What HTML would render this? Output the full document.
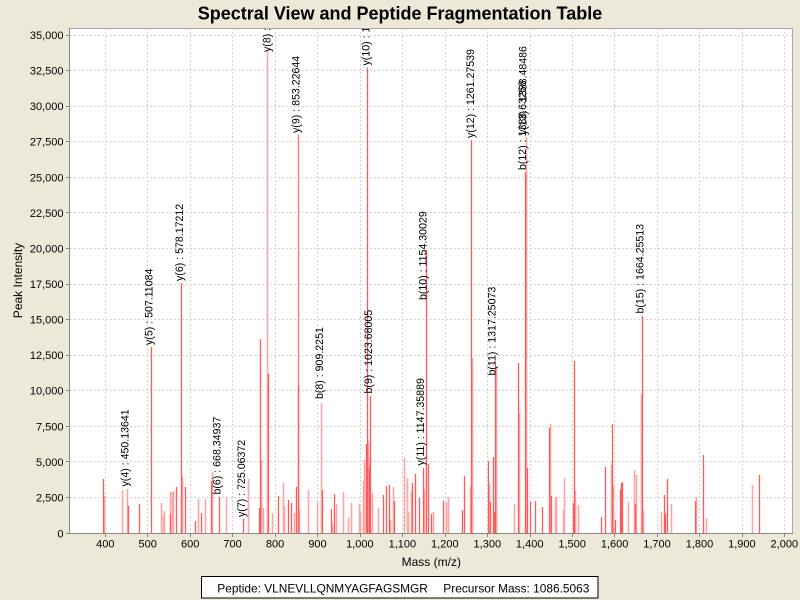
<!DOCTYPE html>
<html><head><meta charset="utf-8"><style>
html,body{margin:0;padding:0;background:#ECE9D8;}
svg{display:block;font-family:"Liberation Sans",Arial,sans-serif;}
.g{stroke:#d4d4d4;stroke-width:1;stroke-dasharray:2,2;}
.l{stroke:#ffa3a3;stroke-width:1.6;}
.b{stroke:#ff5a5a;stroke-width:1.3;}
.lb{font-size:10.6px;fill:#000;}
.tk{font-size:11px;fill:#000;}
</style></head><body>
<svg width="800" height="600" viewBox="0 0 800 600" xmlns="http://www.w3.org/2000/svg">
<rect x="0" y="0" width="800" height="600" fill="#ECE9D8"/>
<text x="400" y="19.5" text-anchor="middle" font-size="18" font-weight="bold" fill="#000">Spectral View and Peptide Fragmentation Table</text>
<defs><clipPath id="pc"><rect x="70" y="28" width="723" height="505"/></clipPath></defs>
<rect x="70" y="28" width="723" height="505" fill="#fff"/>
<g class="g">
<line x1="105.5" y1="28" x2="105.5" y2="533"/><line x1="147.5" y1="28" x2="147.5" y2="533"/><line x1="190.5" y1="28" x2="190.5" y2="533"/><line x1="232.5" y1="28" x2="232.5" y2="533"/><line x1="275.5" y1="28" x2="275.5" y2="533"/><line x1="317.5" y1="28" x2="317.5" y2="533"/><line x1="360.5" y1="28" x2="360.5" y2="533"/><line x1="402.5" y1="28" x2="402.5" y2="533"/><line x1="445.5" y1="28" x2="445.5" y2="533"/><line x1="487.5" y1="28" x2="487.5" y2="533"/><line x1="530.5" y1="28" x2="530.5" y2="533"/><line x1="572.5" y1="28" x2="572.5" y2="533"/><line x1="614.5" y1="28" x2="614.5" y2="533"/><line x1="657.5" y1="28" x2="657.5" y2="533"/><line x1="699.5" y1="28" x2="699.5" y2="533"/><line x1="742.5" y1="28" x2="742.5" y2="533"/><line x1="784.5" y1="28" x2="784.5" y2="533"/>
<line x1="70" y1="497.5" x2="793" y2="497.5"/><line x1="70" y1="461.5" x2="793" y2="461.5"/><line x1="70" y1="426.5" x2="793" y2="426.5"/><line x1="70" y1="390.5" x2="793" y2="390.5"/><line x1="70" y1="355.5" x2="793" y2="355.5"/><line x1="70" y1="319.5" x2="793" y2="319.5"/><line x1="70" y1="284.5" x2="793" y2="284.5"/><line x1="70" y1="248.5" x2="793" y2="248.5"/><line x1="70" y1="212.5" x2="793" y2="212.5"/><line x1="70" y1="177.5" x2="793" y2="177.5"/><line x1="70" y1="141.5" x2="793" y2="141.5"/><line x1="70" y1="106.5" x2="793" y2="106.5"/><line x1="70" y1="70.5" x2="793" y2="70.5"/><line x1="70" y1="35.5" x2="793" y2="35.5"/>
</g>
<g clip-path="url(#pc)">
<g class="l">
<line x1="104.5" y1="496" x2="104.5" y2="533"/>
<line x1="122.5" y1="490" x2="122.5" y2="533"/>
<line x1="127.5" y1="489" x2="127.5" y2="533"/>
<line x1="161.5" y1="503" x2="161.5" y2="533"/>
<line x1="163.5" y1="515" x2="163.5" y2="533"/>
<line x1="164.5" y1="511" x2="164.5" y2="533"/>
<line x1="170.5" y1="492" x2="170.5" y2="533"/>
<line x1="172.5" y1="492" x2="172.5" y2="533"/>
<line x1="173.5" y1="491" x2="173.5" y2="533"/>
<line x1="182.5" y1="477" x2="182.5" y2="533"/>
<line x1="198.5" y1="499" x2="198.5" y2="533"/>
<line x1="205.5" y1="499" x2="205.5" y2="533"/>
<line x1="212.5" y1="472" x2="212.5" y2="533"/>
<line x1="226.5" y1="498" x2="226.5" y2="533"/>
<line x1="248.5" y1="479" x2="248.5" y2="533"/>
<line x1="261.5" y1="460" x2="261.5" y2="533"/>
<line x1="263.5" y1="508" x2="263.5" y2="533"/>
<line x1="267.5" y1="52" x2="267.5" y2="533"/>
<line x1="272.5" y1="513" x2="272.5" y2="533"/>
<line x1="283.5" y1="483" x2="283.5" y2="533"/>
<line x1="284.5" y1="506" x2="284.5" y2="533"/>
<line x1="294.5" y1="513" x2="294.5" y2="533"/>
<line x1="299.5" y1="509" x2="299.5" y2="533"/>
<line x1="308.5" y1="490" x2="308.5" y2="533"/>
<line x1="317.5" y1="502" x2="317.5" y2="533"/>
<line x1="321.5" y1="403" x2="321.5" y2="533"/>
<line x1="332.5" y1="523" x2="332.5" y2="533"/>
<line x1="336.5" y1="504" x2="336.5" y2="533"/>
<line x1="343.5" y1="492" x2="343.5" y2="533"/>
<line x1="348.5" y1="518" x2="348.5" y2="533"/>
<line x1="351.5" y1="503" x2="351.5" y2="533"/>
<line x1="359.5" y1="504" x2="359.5" y2="533"/>
<line x1="360.5" y1="511" x2="360.5" y2="533"/>
<line x1="363.5" y1="481" x2="363.5" y2="533"/>
<line x1="364.5" y1="460" x2="364.5" y2="533"/>
<line x1="368.5" y1="441" x2="368.5" y2="533"/>
<line x1="369.5" y1="457" x2="369.5" y2="533"/>
<line x1="372.5" y1="493" x2="372.5" y2="533"/>
<line x1="378.5" y1="508" x2="378.5" y2="533"/>
<line x1="390.5" y1="520" x2="390.5" y2="533"/>
<line x1="393.5" y1="487" x2="393.5" y2="533"/>
<line x1="404.5" y1="458" x2="404.5" y2="533"/>
<line x1="407.5" y1="478" x2="407.5" y2="533"/>
<line x1="408.5" y1="512" x2="408.5" y2="533"/>
<line x1="411.5" y1="491" x2="411.5" y2="533"/>
<line x1="424.5" y1="489" x2="424.5" y2="533"/>
<line x1="433.5" y1="512" x2="433.5" y2="533"/>
<line x1="446.5" y1="502" x2="446.5" y2="533"/>
<line x1="448.5" y1="497" x2="448.5" y2="533"/>
<line x1="470.5" y1="487" x2="470.5" y2="533"/>
<line x1="472.5" y1="358" x2="472.5" y2="533"/>
<line x1="489.5" y1="484" x2="489.5" y2="533"/>
<line x1="496.5" y1="367" x2="496.5" y2="533"/>
<line x1="514.5" y1="504" x2="514.5" y2="533"/>
<line x1="519.5" y1="413" x2="519.5" y2="533"/>
<line x1="526.5" y1="137" x2="526.5" y2="533"/>
<line x1="550.5" y1="424" x2="550.5" y2="533"/>
<line x1="555.5" y1="497" x2="555.5" y2="533"/>
<line x1="556.5" y1="497" x2="556.5" y2="533"/>
<line x1="563.5" y1="510" x2="563.5" y2="533"/>
<line x1="564.5" y1="478" x2="564.5" y2="533"/>
<line x1="575.5" y1="491" x2="575.5" y2="533"/>
<line x1="578.5" y1="505" x2="578.5" y2="533"/>
<line x1="611.5" y1="465" x2="611.5" y2="533"/>
<line x1="613.5" y1="486" x2="613.5" y2="533"/>
<line x1="628.5" y1="502" x2="628.5" y2="533"/>
<line x1="634.5" y1="470" x2="634.5" y2="533"/>
<line x1="636.5" y1="475" x2="636.5" y2="533"/>
<line x1="641.5" y1="394" x2="641.5" y2="533"/>
<line x1="643.5" y1="511" x2="643.5" y2="533"/>
<line x1="661.5" y1="512" x2="661.5" y2="533"/>
<line x1="671.5" y1="504" x2="671.5" y2="533"/>
<line x1="696.5" y1="497" x2="696.5" y2="533"/>
<line x1="706.5" y1="518" x2="706.5" y2="533"/>
<line x1="752.5" y1="485" x2="752.5" y2="533"/>
</g>
<line x1="298.5" y1="134.5" x2="298.5" y2="533" stroke="#ff7c7c" stroke-width="1.4"/>
<g class="b">
<line x1="103.5" y1="479" x2="103.5" y2="533"/>
<line x1="128.5" y1="506" x2="128.5" y2="533"/>
<line x1="139.5" y1="504" x2="139.5" y2="533"/>
<line x1="151.5" y1="347" x2="151.5" y2="533"/>
<line x1="170.5" y1="514" x2="170.5" y2="533"/>
<line x1="176.5" y1="487" x2="176.5" y2="533"/>
<line x1="181.5" y1="283" x2="181.5" y2="533"/>
<line x1="185.5" y1="487" x2="185.5" y2="533"/>
<line x1="195.5" y1="521" x2="195.5" y2="533"/>
<line x1="201.5" y1="513" x2="201.5" y2="533"/>
<line x1="211.5" y1="481" x2="211.5" y2="533"/>
<line x1="219.5" y1="497" x2="219.5" y2="533"/>
<line x1="243.5" y1="519" x2="243.5" y2="533"/>
<line x1="259.5" y1="508" x2="259.5" y2="533"/>
<line x1="260.5" y1="339" x2="260.5" y2="533"/>
<line x1="268.5" y1="374" x2="268.5" y2="533"/>
<line x1="278.5" y1="496" x2="278.5" y2="533"/>
<line x1="288.5" y1="500" x2="288.5" y2="533"/>
<line x1="291.5" y1="503" x2="291.5" y2="533"/>
<line x1="296.5" y1="487" x2="296.5" y2="533"/>
<line x1="298.5" y1="385" x2="298.5" y2="533"/>
<line x1="322.5" y1="490" x2="322.5" y2="533"/>
<line x1="331.5" y1="509" x2="331.5" y2="533"/>
<line x1="334.5" y1="494" x2="334.5" y2="533"/>
<line x1="366.5" y1="444" x2="366.5" y2="533"/>
<line x1="367.5" y1="67.5" x2="367.5" y2="533"/>
<line x1="369.5" y1="467" x2="369.5" y2="533"/>
<line x1="370.5" y1="396" x2="370.5" y2="533"/>
<line x1="383.5" y1="495" x2="383.5" y2="533"/>
<line x1="386.5" y1="486" x2="386.5" y2="533"/>
<line x1="389.5" y1="485" x2="389.5" y2="533"/>
<line x1="394.5" y1="501" x2="394.5" y2="533"/>
<line x1="412.5" y1="483" x2="412.5" y2="533"/>
<line x1="415.5" y1="474" x2="415.5" y2="533"/>
<line x1="419.5" y1="498" x2="419.5" y2="533"/>
<line x1="423.5" y1="468" x2="423.5" y2="533"/>
<line x1="426.5" y1="250" x2="426.5" y2="533"/>
<line x1="428.5" y1="464" x2="428.5" y2="533"/>
<line x1="431.5" y1="514" x2="431.5" y2="533"/>
<line x1="443.5" y1="501" x2="443.5" y2="533"/>
<line x1="462.5" y1="510" x2="462.5" y2="533"/>
<line x1="464.5" y1="476" x2="464.5" y2="533"/>
<line x1="471.5" y1="140" x2="471.5" y2="533"/>
<line x1="488.5" y1="461" x2="488.5" y2="533"/>
<line x1="490.5" y1="502" x2="490.5" y2="533"/>
<line x1="493.5" y1="457" x2="493.5" y2="533"/>
<line x1="494.5" y1="512" x2="494.5" y2="533"/>
<line x1="495.5" y1="365" x2="495.5" y2="533"/>
<line x1="518.5" y1="363" x2="518.5" y2="533"/>
<line x1="525.5" y1="172" x2="525.5" y2="533"/>
<line x1="527.5" y1="468" x2="527.5" y2="533"/>
<line x1="530.5" y1="502" x2="530.5" y2="533"/>
<line x1="535.5" y1="501" x2="535.5" y2="533"/>
<line x1="542.5" y1="507" x2="542.5" y2="533"/>
<line x1="549.5" y1="428" x2="549.5" y2="533"/>
<line x1="551.5" y1="496" x2="551.5" y2="533"/>
<line x1="573.5" y1="503" x2="573.5" y2="533"/>
<line x1="574.5" y1="361" x2="574.5" y2="533"/>
<line x1="601.5" y1="517" x2="601.5" y2="533"/>
<line x1="605.5" y1="467" x2="605.5" y2="533"/>
<line x1="612.5" y1="424" x2="612.5" y2="533"/>
<line x1="615.5" y1="520" x2="615.5" y2="533"/>
<line x1="620.5" y1="490" x2="620.5" y2="533"/>
<line x1="621.5" y1="483" x2="621.5" y2="533"/>
<line x1="622.5" y1="482" x2="622.5" y2="533"/>
<line x1="635.5" y1="504" x2="635.5" y2="533"/>
<line x1="642.5" y1="316" x2="642.5" y2="533"/>
<line x1="664.5" y1="495" x2="664.5" y2="533"/>
<line x1="665.5" y1="514" x2="665.5" y2="533"/>
<line x1="667.5" y1="479" x2="667.5" y2="533"/>
<line x1="695.5" y1="501" x2="695.5" y2="533"/>
<line x1="703.5" y1="455" x2="703.5" y2="533"/>
<line x1="759.5" y1="475" x2="759.5" y2="533"/>
</g>
<g class="lb">
<text transform="translate(128.7,486.5) rotate(-90)">y(4) : 450.13641</text>
<text transform="translate(152.5,345) rotate(-90)">y(5) : 507.11084</text>
<text transform="translate(182.8,281) rotate(-90)">y(6) : 578.17212</text>
<text transform="translate(220.5,494.5) rotate(-90)">b(6) : 668.34937</text>
<text transform="translate(245,517) rotate(-90)">y(7) : 725.06372</text>
<text transform="translate(270.3,52) rotate(-90)">y(8) : 781.43127</text>
<text transform="translate(299.5,133) rotate(-90)">y(9) : 853.22644</text>
<text transform="translate(323,399) rotate(-90)">b(8) : 909.2251</text>
<text transform="translate(369.5,65.5) rotate(-90)">y(10) : 1017.48999</text>
<text transform="translate(372,393.5) rotate(-90)">b(9) : 1023.68005</text>
<text transform="translate(424,465.5) rotate(-90)">y(11) : 1147.35889</text>
<text transform="translate(426.3,300) rotate(-90)">b(10) : 1154.30029</text>
<text transform="translate(473.8,138) rotate(-90)">y(12) : 1261.27539</text>
<text transform="translate(495.5,375.5) rotate(-90)">b(11) : 1317.25073</text>
<text transform="translate(525.8,170) rotate(-90)">b(12) : 1388.63258</text>
<text transform="translate(526.5,135) rotate(-90)">y(13) : 1388.48486</text>
<text transform="translate(643.5,313.5) rotate(-90)">b(15) : 1664.25513</text>
</g>
</g>
<line x1="70" y1="28.5" x2="793" y2="28.5" stroke="#a8a8a8"/>
<line x1="792.5" y1="28" x2="792.5" y2="533" stroke="#a8a8a8"/>
<line x1="69.5" y1="28" x2="69.5" y2="534" stroke="#888"/>
<line x1="69" y1="533.5" x2="793" y2="533.5" stroke="#888"/>
<g stroke="#888">
<line x1="66" y1="533.5" x2="69" y2="533.5"/><line x1="66" y1="497.5" x2="69" y2="497.5"/><line x1="66" y1="461.5" x2="69" y2="461.5"/><line x1="66" y1="426.5" x2="69" y2="426.5"/><line x1="66" y1="390.5" x2="69" y2="390.5"/><line x1="66" y1="355.5" x2="69" y2="355.5"/><line x1="66" y1="319.5" x2="69" y2="319.5"/><line x1="66" y1="284.5" x2="69" y2="284.5"/><line x1="66" y1="248.5" x2="69" y2="248.5"/><line x1="66" y1="212.5" x2="69" y2="212.5"/><line x1="66" y1="177.5" x2="69" y2="177.5"/><line x1="66" y1="141.5" x2="69" y2="141.5"/><line x1="66" y1="106.5" x2="69" y2="106.5"/><line x1="66" y1="70.5" x2="69" y2="70.5"/><line x1="66" y1="35.5" x2="69" y2="35.5"/>
<line x1="105.5" y1="534" x2="105.5" y2="537"/><line x1="147.5" y1="534" x2="147.5" y2="537"/><line x1="190.5" y1="534" x2="190.5" y2="537"/><line x1="232.5" y1="534" x2="232.5" y2="537"/><line x1="275.5" y1="534" x2="275.5" y2="537"/><line x1="317.5" y1="534" x2="317.5" y2="537"/><line x1="360.5" y1="534" x2="360.5" y2="537"/><line x1="402.5" y1="534" x2="402.5" y2="537"/><line x1="445.5" y1="534" x2="445.5" y2="537"/><line x1="487.5" y1="534" x2="487.5" y2="537"/><line x1="530.5" y1="534" x2="530.5" y2="537"/><line x1="572.5" y1="534" x2="572.5" y2="537"/><line x1="614.5" y1="534" x2="614.5" y2="537"/><line x1="657.5" y1="534" x2="657.5" y2="537"/><line x1="699.5" y1="534" x2="699.5" y2="537"/><line x1="742.5" y1="534" x2="742.5" y2="537"/><line x1="784.5" y1="534" x2="784.5" y2="537"/>
</g>
<g class="tk" text-anchor="end">
<text x="63.5" y="537.5">0</text>
<text x="63.5" y="501.5">2,500</text>
<text x="63.5" y="466">5,000</text>
<text x="63.5" y="430.5">7,500</text>
<text x="63.5" y="394.5">10,000</text>
<text x="63.5" y="359">12,500</text>
<text x="63.5" y="323.5">15,000</text>
<text x="63.5" y="288">17,500</text>
<text x="63.5" y="252.5">20,000</text>
<text x="63.5" y="217">22,500</text>
<text x="63.5" y="181.5">25,000</text>
<text x="63.5" y="145.5">27,500</text>
<text x="63.5" y="110">30,000</text>
<text x="63.5" y="74.5">32,500</text>
<text x="63.5" y="39">35,000</text>
</g>
<g class="tk" text-anchor="middle">
<text x="105.3" y="547.5">400</text>
<text x="147.7" y="547.5">500</text>
<text x="190.2" y="547.5">600</text>
<text x="232.6" y="547.5">700</text>
<text x="275.1" y="547.5">800</text>
<text x="317.5" y="547.5">900</text>
<text x="359.9" y="547.5">1,000</text>
<text x="402.4" y="547.5">1,100</text>
<text x="444.8" y="547.5">1,200</text>
<text x="487.3" y="547.5">1,300</text>
<text x="529.7" y="547.5">1,400</text>
<text x="572.1" y="547.5">1,500</text>
<text x="614.6" y="547.5">1,600</text>
<text x="657" y="547.5">1,700</text>
<text x="699.5" y="547.5">1,800</text>
<text x="741.9" y="547.5">1,900</text>
<text x="784.3" y="547.5">2,000</text>
</g>
<text x="431.3" y="566" text-anchor="middle" font-size="12" fill="#000">Mass (m/z)</text>
<text transform="translate(22,280.5) rotate(-90)" text-anchor="middle" font-size="12" fill="#000">Peak Intensity</text>
<rect x="201.5" y="576.5" width="396.5" height="21.5" fill="#fff" stroke="#000" stroke-width="1"/>
<text x="217.3" y="592.5" font-size="11.9" fill="#000">Peptide: VLNEVLLQNMYAGFAGSMGR</text>
<text x="443.3" y="592.5" font-size="11.9" fill="#000">Precursor Mass: 1086.5063</text>
</svg>
</body></html>
